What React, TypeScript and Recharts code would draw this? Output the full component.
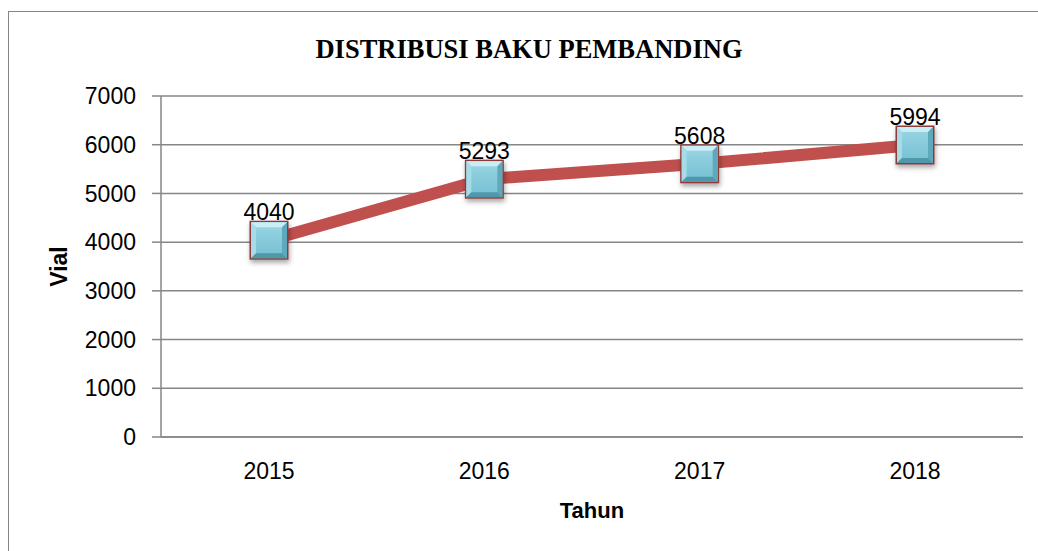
import React from 'react';
import { LineChart, Line, XAxis, YAxis, CartesianGrid, LabelList } from 'recharts';

const years = ['2015', '2016', '2017', '2018'];
const vialCounts = [4040, 5293, 5608, 5994];
const yTicks = [0, 1000, 2000, 3000, 4000, 5000, 6000, 7000];

const data = years.map((year, i) => ({ year, vial: vialCounts[i] }));

const FONT = '"Liberation Sans", Arial, sans-serif';

const Marker = (props: any) => {
  const { cx, cy } = props;
  if (cx == null || cy == null) return null;
  const s = 39;
  const b = 5;
  const x = cx - s / 2;
  const y = cy - s / 2;
  const i = 1.5;
  return (
    <g filter="url(#markerShadow)">
      <rect x={x} y={y} width={s} height={s} fill="#8c3a38" />
      <rect x={x + i} y={y + i} width={s - 2 * i} height={s - 2 * i} fill="url(#markerFill)" />
      {/* bevel edges */}
      <polygon points={`${x + i},${y + i} ${x + s - i},${y + i} ${x + s - i - b},${y + i + b} ${x + i + b},${y + i + b}`} fill="#c9eef6" />
      <polygon points={`${x + i},${y + i} ${x + i + b},${y + i + b} ${x + i + b},${y + s - i - b} ${x + i},${y + s - i}`} fill="#a6dbe8" />
      <polygon points={`${x + s - i},${y + i} ${x + s - i},${y + s - i} ${x + s - i - b},${y + s - i - b} ${x + s - i - b},${y + i + b}`} fill="#5fa9bc" />
      <polygon points={`${x + i},${y + s - i} ${x + s - i},${y + s - i} ${x + s - i - b},${y + s - i - b} ${x + i + b},${y + s - i - b}`} fill="#4f97aa" />
    </g>
  );
};

const VialLabel = (props: any) => {
  const { viewBox } = props;
  const cy = viewBox.y + viewBox.height / 2;
  const cx = 59;
  return (
    <text x={cx} y={cy} transform={`rotate(-90 ${cx} ${cy})`} textAnchor="middle" dominantBaseline="central" fill="#000" fontSize={23} fontWeight="bold" fontFamily={FONT}>
      Vial
    </text>
  );
};

export default function App() {
  return (
    <div style={{ position: 'absolute', left: 0, top: 0, width: 1038, height: 551, overflow: 'hidden', background: '#fff' }}>
      <div style={{ position: 'absolute', left: 8, top: 11, width: 1200, height: 700, border: '1.5px solid #868686', boxSizing: 'border-box' }} />
      <div
        style={{
          position: 'absolute',
          left: 0,
          width: 1058,
          top: 34,
          textAlign: 'center',
          fontFamily: '"Liberation Serif", "Times New Roman", serif',
          fontWeight: 'bold',
          fontSize: 26.5,
          lineHeight: 'normal',
        }}
      >
        DISTRIBUSI BAKU PEMBANDING
      </div>
      <div style={{ position: 'absolute', left: 0, top: 0 }}>
        <LineChart width={1038} height={551} data={data} margin={{ top: 96, right: 15, bottom: 0, left: 41 }}>
          <defs>
            <linearGradient id="markerFill" x1="0" y1="0" x2="0" y2="1">
              <stop offset="0%" stopColor="#9ad6e4" />
              <stop offset="100%" stopColor="#74bfd1" />
            </linearGradient>
            <filter id="markerShadow" x="-50%" y="-50%" width="200%" height="200%">
              <feDropShadow dx="1" dy="3" stdDeviation="2.5" floodColor="#000" floodOpacity="0.35" />
            </filter>
          </defs>
          <CartesianGrid vertical={false} stroke="#868686" strokeWidth={1.5} />
          <XAxis
            dataKey="year"
            height={114}
            padding={{ left: 108, right: 108 }}
            axisLine={{ stroke: '#868686', strokeWidth: 1.5 }}
            tickLine={false}
            tickSize={0}
            tickMargin={26}
            tick={{ fill: '#000', fontSize: 23, fontFamily: FONT }}
            label={{ value: 'Tahun', position: 'insideBottom', offset: 33, fill: '#000', fontSize: 22, fontWeight: 'bold', fontFamily: FONT }}
          />
          <YAxis
            width={120}
            domain={[0, 7000]}
            ticks={yTicks}
            interval={0}
            axisLine={{ stroke: '#868686', strokeWidth: 1.5 }}
            tickLine={{ stroke: '#868686', strokeWidth: 1.5 }}
            tickSize={9}
            tickMargin={16}
            tick={{ fill: '#000', fontSize: 23, fontFamily: FONT }}
            label={<VialLabel />}
          />
          <Line
            type="linear"
            dataKey="vial"
            stroke="#c0504d"
            strokeWidth={12}
            strokeLinejoin="round"
            dot={<Marker />}
            activeDot={false}
            isAnimationActive={false}
          >
            <LabelList dataKey="vial" position="top" offset={20} fill="#000" fontSize={23} fontFamily={FONT} />
          </Line>
        </LineChart>
      </div>
    </div>
  );
}
